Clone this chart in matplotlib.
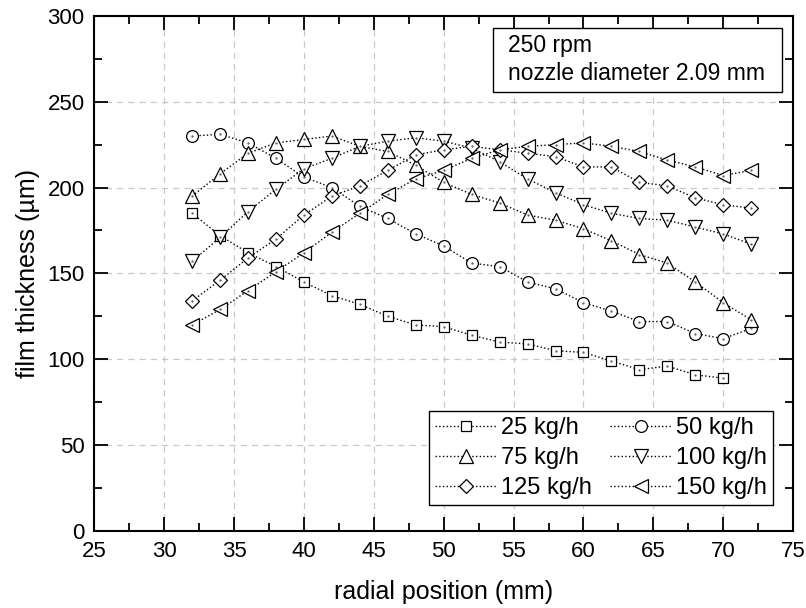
import numpy as np
import matplotlib
matplotlib.use('Agg')
import matplotlib.pyplot as plt
from matplotlib.patches import Rectangle
from matplotlib.ticker import MultipleLocator

plt.rcParams['font.family'] = ['Liberation Sans', 'DejaVu Sans']

# radial positions (mm)
x_pos = [32, 34, 36, 38, 40, 42, 44, 46, 48, 50, 52, 54, 56, 58, 60, 62, 64, 66, 68, 70, 72]

# film thickness (um) per mass flow
t_25 = [185, 172, 162, 154, 145, 137, 132, 125, 120, 119, 114, 110, 109, 105, 104, 99, 94, 96, 91, 89]
t_50 = [230, 231, 226, 217, 206, 200, 189, 182, 173, 166, 156, 154, 145, 141, 133, 128, 122, 122, 115, 112, 118]
t_75 = [195, 208, 220, 226, 228, 230, 224, 221, 213, 203, 196, 191, 184, 181, 176, 169, 161, 156, 145, 133, 123]
t_100 = [157, 171, 186, 199, 211, 217, 224, 227, 229, 227, 223, 215, 205, 197, 190, 185, 182, 181, 177, 173, 167]
t_125 = [134, 146, 159, 170, 184, 195, 201, 210, 219, 222, 224, 222, 220, 218, 212, 212, 203, 201, 194, 190, 188]
t_150 = [120, 129, 140, 151, 162, 174, 185, 196, 205, 210, 217, 222, 224, 225, 226, 224, 221, 216, 212, 207, 210]

labels = ['25 kg/h', '50 kg/h', '75 kg/h', '100 kg/h', '125 kg/h', '150 kg/h']
series = [t_25, t_50, t_75, t_100, t_125, t_150]
markers = ['s', 'o', '^', 'v', 'D', '<']
msizes = [7.5, 8.5, 10, 10, 7, 10]

fig = plt.figure(figsize=(8.06, 6.08), dpi=100)
ax = fig.add_axes([0.117, 0.1266, 0.867, 0.8474])

handles = []
for vals, lab, mk, ms in zip(series, labels, markers, msizes):
    xs = x_pos[:len(vals)]
    h, = ax.plot(xs, vals, linestyle=':', color='black', linewidth=1.0,
                 marker=mk, markersize=ms, markerfacecolor='white',
                 markeredgecolor='black', markeredgewidth=0.9, label=lab)
    # little centre dot like in the original
    ax.plot(xs, vals, linestyle='none', marker='.', markersize=1.2, color='#555555')
    handles.append(h)

ax.set_xlim(25, 75)
ax.set_ylim(0, 300)
ax.xaxis.set_major_locator(MultipleLocator(5))
ax.xaxis.set_minor_locator(MultipleLocator(2.5))
ax.yaxis.set_major_locator(MultipleLocator(50))
ax.yaxis.set_minor_locator(MultipleLocator(25))

ax.tick_params(which='both', direction='in', top=True, right=True, width=1.3,
               labelsize=16, pad=7)
ax.tick_params(which='major', length=10)
ax.tick_params(which='minor', length=6)
for sp in ax.spines.values():
    sp.set_linewidth(1.5)

ax.grid(True, which='major', linestyle=(0, (5, 4)), color='#c8c8c8', linewidth=0.9)
ax.set_axisbelow(True)

ax.set_xlabel('radial position (mm)', fontsize=18, labelpad=13)
ax.set_ylabel('film thickness (\u00b5m)', fontsize=18, labelpad=5)

# legend: two columns, row-wise order
order = [0, 2, 4, 1, 3, 5]
leg = ax.legend([handles[i] for i in order], [labels[i] for i in order],
                ncol=2, loc='lower right', bbox_to_anchor=(0.971, 0.05),
                fontsize=17, frameon=True, fancybox=False, edgecolor='black',
                framealpha=1, handlelength=2.6, handletextpad=0.2,
                columnspacing=0.75, labelspacing=0.35, borderpad=0.25,
                borderaxespad=0)
leg.get_frame().set_linewidth(1.0)

# annotation box
ax.add_patch(Rectangle((0.5706, 0.8519), 0.4137, 0.1242, transform=ax.transAxes,
                       facecolor='white', edgecolor='black', linewidth=1.0, zorder=5))
ax.text(0.5923, 0.9432, '250 rpm', transform=ax.transAxes,
        fontsize=16.5, va='center', ha='left', zorder=6)
ax.text(0.5923, 0.8888, 'nozzle diameter 2.09 mm', transform=ax.transAxes,
        fontsize=16.5, va='center', ha='left', zorder=6)

fig.savefig('out.png', dpi=100)
